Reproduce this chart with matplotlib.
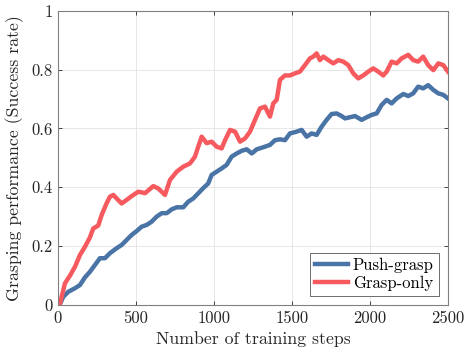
import matplotlib

matplotlib.use("Agg")
import matplotlib.pyplot as plt  # noqa: E402

# values
push_steps = [10, 34, 66, 109, 141, 173, 205, 237, 269, 301, 333, 376, 408, 440, 472, 504, 536, 568, 600,
              632, 665, 697, 729, 761, 803, 835, 867, 889, 931, 963, 985, 1017, 1049, 1081, 1113, 1146,
              1178, 1210, 1242, 1274, 1316, 1359, 1391, 1423, 1455, 1487, 1530, 1562, 1594, 1626, 1658,
              1690, 1722, 1754, 1786, 1818, 1840, 1872, 1904, 1947, 1979, 2011, 2043, 2075, 2107, 2139,
              2171, 2214, 2245, 2277, 2309, 2341, 2373, 2406, 2438, 2470, 2500]
push_rate = [0.0, 0.028, 0.045, 0.057, 0.068, 0.094, 0.113, 0.136, 0.159, 0.159, 0.176, 0.193, 0.204,
             0.221, 0.238, 0.251, 0.266, 0.272, 0.283, 0.300, 0.312, 0.312, 0.325, 0.332, 0.332, 0.351,
             0.362, 0.374, 0.397, 0.413, 0.442, 0.453, 0.464, 0.476, 0.504, 0.515, 0.524, 0.529, 0.515,
             0.529, 0.536, 0.544, 0.560, 0.563, 0.560, 0.583, 0.589, 0.595, 0.572, 0.583, 0.578, 0.606,
             0.629, 0.649, 0.651, 0.642, 0.634, 0.638, 0.642, 0.629, 0.638, 0.646, 0.651, 0.680, 0.697,
             0.685, 0.702, 0.717, 0.710, 0.719, 0.742, 0.736, 0.747, 0.731, 0.719, 0.714, 0.702]

grasp_steps = [10, 45, 77, 109, 141, 173, 205, 226, 258, 280, 312, 333, 355, 376, 408, 440, 472, 515, 558,
               611, 643, 686, 718, 761, 803, 846, 878, 899, 921, 953, 985, 1017, 1049, 1071, 1103, 1135,
               1167, 1199, 1231, 1263, 1295, 1327, 1359, 1380, 1402, 1423, 1455, 1487, 1519, 1551, 1583,
               1615, 1637, 1658, 1679, 1701, 1733, 1765, 1797, 1829, 1861, 1893, 1925, 1957, 1989, 2021,
               2053, 2085, 2107, 2139, 2171, 2203, 2245, 2277, 2309, 2341, 2373, 2406, 2438, 2470, 2500]
grasp_rate = [0.0, 0.074, 0.100, 0.130, 0.170, 0.198, 0.230, 0.260, 0.270, 0.306, 0.346, 0.368, 0.374,
              0.362, 0.345, 0.357, 0.370, 0.385, 0.380, 0.404, 0.396, 0.374, 0.425, 0.453, 0.470, 0.481,
              0.504, 0.538, 0.572, 0.550, 0.555, 0.538, 0.532, 0.560, 0.595, 0.589, 0.555, 0.566, 0.589,
              0.629, 0.668, 0.674, 0.640, 0.685, 0.697, 0.765, 0.780, 0.780, 0.787, 0.793, 0.815, 0.838,
              0.844, 0.855, 0.832, 0.844, 0.832, 0.821, 0.832, 0.827, 0.815, 0.787, 0.770, 0.780, 0.793,
              0.804, 0.793, 0.780, 0.793, 0.827, 0.821, 0.838, 0.850, 0.832, 0.827, 0.844, 0.815, 0.798,
              0.821, 0.815, 0.793]

x_ticks = [0, 500, 1000, 1500, 2000, 2500]
y_ticks = [0, 0.2, 0.4, 0.6, 0.8, 1.0]
y_tick_labels = ["0", "0.2", "0.4", "0.6", "0.8", "1"]

BLUE = "#4a74a6"
RED = "#f65a5e"

plt.rcParams["font.family"] = "cmr10"
plt.rcParams["axes.formatter.use_mathtext"] = True
plt.rcParams["mathtext.fontset"] = "cm"

figure = plt.figure(figsize=(4.65, 3.54), dpi=100)
ax = figure.add_axes([0.1247, 0.1384, 0.8387, 0.8314])

ax.plot(push_steps, push_rate, color=BLUE, linewidth=3.2, label="Push-grasp")
ax.plot(grasp_steps, grasp_rate, color=RED, linewidth=3.2, label="Grasp-only")

ax.set_xlim(0, 2500)
ax.set_ylim(0, 1)
ax.set_xticks(x_ticks)
ax.set_xticklabels([str(t) for t in x_ticks])
ax.set_yticks(y_ticks)
ax.set_yticklabels(y_tick_labels)
ax.tick_params(direction="in", top=True, right=True, length=3, width=0.6,
               labelsize=12, colors="#262626", pad=4)
ax.grid(color="#e3e3e3", linewidth=0.6)
ax.set_axisbelow(True)
for spine in ax.spines.values():
    spine.set_color("#808080")
    spine.set_linewidth(0.8)

ax.set_xlabel("Number of training steps", fontsize=12.8, color="#262626", labelpad=4)
ax.set_ylabel("Grasping performance (Success rate)", fontsize=12.8, color="#262626", labelpad=5)

legend = ax.legend(loc="lower right", fontsize=12, fancybox=False, framealpha=1,
                   edgecolor="#555555", handlelength=2.0, handletextpad=0.3,
                   borderpad=0.3, labelspacing=0.15, borderaxespad=0.55)
legend.get_frame().set_linewidth(0.6)

figure.savefig("out.png", dpi=100)
